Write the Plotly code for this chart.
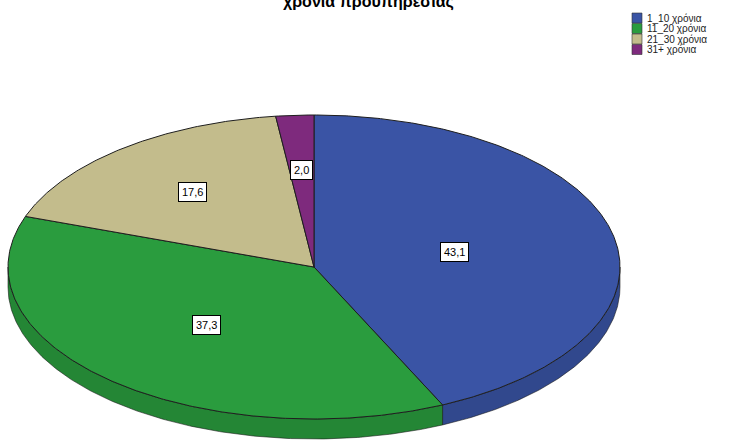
import numpy as np
import plotly.graph_objects as go

# Data: years of prior service, percentage of respondents
categories = ["1_10 χρόνια", "11_20 χρόνια", "21_30 χρόνια", "31+ χρόνια"]
percentages = [43.1, 37.3, 17.6, 2.0]
title_text = "χρόνια προϋπηρεσίας"

# Styling
top_colors = ["#3a54a5", "#2a9c3e", "#c3bc8c", "#7e2a7d"]
label_radius = [0.47, 0.52, 0.63, 0.64]   # radial position of value boxes
W, H = 737, 440
CX, CY, RX, RY, DEPTH = 314, 267, 306, 152, 20
FONT = "Liberation Sans, Arial, sans-serif"


def darker(hex_color, f=0.86):
    h = hex_color.lstrip("#")
    r, g, b = (int(h[i:i + 2], 16) for i in (0, 2, 4))
    return "rgb(%d,%d,%d)" % (r * f, g * f, b * f)


def arc(t0, t1, dy=0.0, n=None):
    n = n or max(2, int(abs(t1 - t0) * 2))
    t = np.radians(np.linspace(t0, t1, n))
    return CX + RX * np.sin(t), CY - RY * np.cos(t) + dy


fig = go.Figure()

# cumulative angles (clockwise from 12 o'clock)
total = sum(percentages)
bounds = np.concatenate([[0], np.cumsum(percentages) / total * 360])

# 3D side walls (front half of the disc only)
for i, cat in enumerate(categories):
    s0, s1 = max(bounds[i], 90), min(bounds[i + 1], 270)
    if s1 <= s0:
        continue
    xt, yt = arc(s0, s1)
    xb, yb = arc(s1, s0, DEPTH)
    fig.add_trace(go.Scatter(
        x=np.concatenate([xt, xb, xt[:1]]), y=np.concatenate([yt, yb, yt[:1]]),
        mode="lines", fill="toself", fillcolor=darker(top_colors[i]),
        line=dict(color="rgba(20,20,20,0.7)", width=0.8), hoverinfo="skip", showlegend=False))

# top faces
for i, cat in enumerate(categories):
    xa, ya = arc(bounds[i], bounds[i + 1])
    fig.add_trace(go.Scatter(
        x=np.concatenate([[CX], xa, [CX]]), y=np.concatenate([[CY], ya, [CY]]),
        mode="lines", fill="toself", fillcolor=top_colors[i],
        line=dict(color="#1e1e1e", width=1), name=cat,
        hovertemplate=f"{cat}: {percentages[i]:.1f}%<extra></extra>", showlegend=False))

annotations = []
shapes = []

# value boxes
for i, v in enumerate(percentages):
    mid = np.radians((bounds[i] + bounds[i + 1]) / 2)
    lx = CX + label_radius[i] * RX * np.sin(mid)
    ly = CY - label_radius[i] * RY * np.cos(mid)
    annotations.append(dict(
        x=lx, y=ly, xref="x", yref="y", showarrow=False,
        text=f"{v:.1f}".replace(".", ","),
        font=dict(family=FONT, size=11, color="#000"),
        bgcolor="white", bordercolor="#000", borderwidth=1, borderpad=3))

# legend
for i, cat in enumerate(categories):
    yc = 18 + i * 10.5
    shapes.append(dict(type="rect", xref="x", yref="y",
                       x0=632, x1=642, y0=yc - 5, y1=yc + 5,
                       fillcolor=top_colors[i], line=dict(color="#333", width=0.6)))
    annotations.append(dict(x=645, y=yc, xref="x", yref="y", showarrow=False,
                            xanchor="left", yanchor="middle", text=cat,
                            font=dict(family=FONT, size=10, color="#222")))

# title (sits partly above the top edge)
annotations.append(dict(x=W / 2, y=13, xref="x", yref="y", showarrow=False,
                        xanchor="center", yanchor="bottom",
                        text=f"<b>{title_text}</b>",
                        font=dict(family=FONT, size=16, color="#000")))

fig.update_layout(
    width=W, height=H, margin=dict(l=0, r=0, t=0, b=0),
    paper_bgcolor="white", plot_bgcolor="white",
    xaxis=dict(range=[0, W], visible=False, fixedrange=True),
    yaxis=dict(range=[H, 0], visible=False, fixedrange=True),
    annotations=annotations, shapes=shapes, showlegend=False)

fig.write_html("out.html")
